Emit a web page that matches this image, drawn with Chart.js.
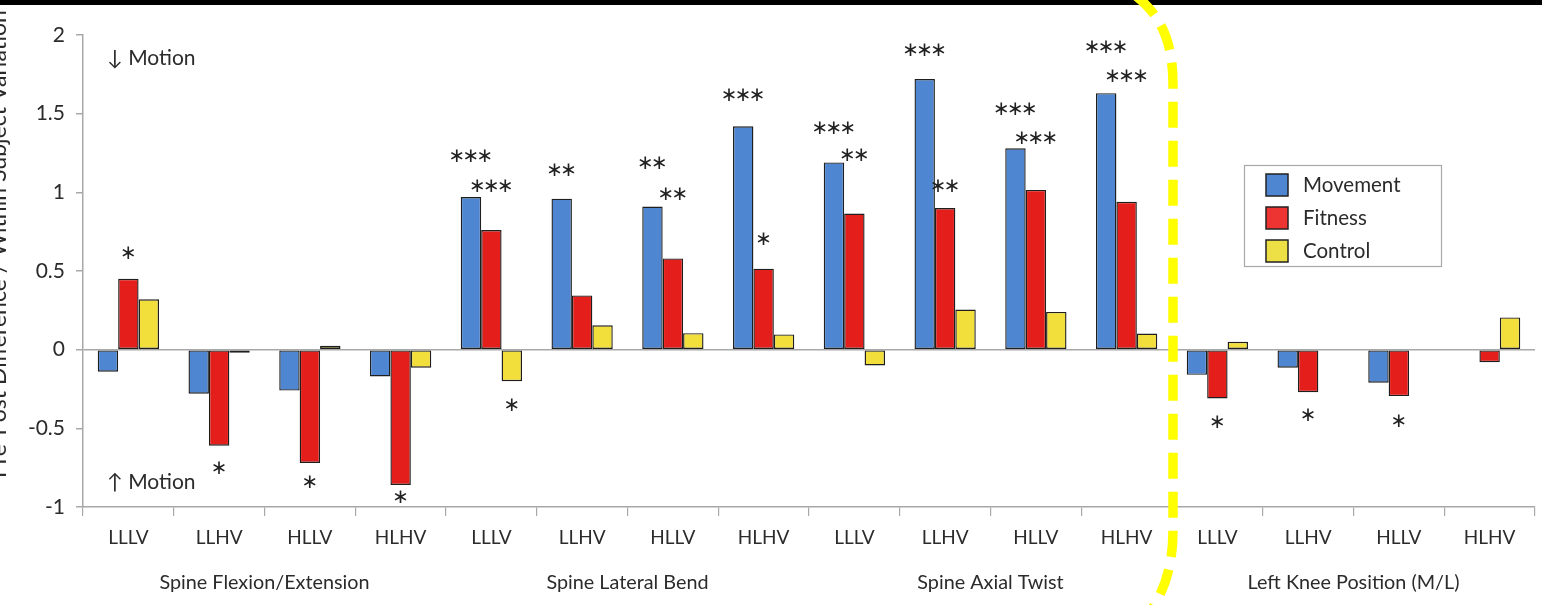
<!DOCTYPE html>
<html>
<head>
<meta charset="utf-8">
<script src="https://cdn.jsdelivr.net/npm/chart.js@4.4.1/dist/chart.umd.min.js"></script>
<style>
  html, body { margin: 0; padding: 0; background: #ffffff; overflow: hidden; }
  canvas { display: block; }
</style>
</head>
<body>
<canvas id="chart" width="1542" height="605"></canvas>
<script>
// Task conditions, repeated for each measured body region
const conditions = [
  'LLLV', 'LLHV', 'HLLV', 'HLHV',
  'LLLV', 'LLHV', 'HLLV', 'HLHV',
  'LLLV', 'LLHV', 'HLLV', 'HLHV',
  'LLLV', 'LLHV', 'HLLV', 'HLHV'
];
const regions = ['Spine Flexion/Extension', 'Spine Lateral Bend', 'Spine Axial Twist', 'Left Knee Position (M/L)'];
const seriesNames = ['Movement', 'Fitness', 'Control'];

// Pre/post difference normalised by within-subject variation
const movement = [-0.14, -0.28, -0.26, -0.17,  0.97, 0.96, 0.91, 1.42,  1.19, 1.72, 1.28, 1.63,  -0.16, -0.115, -0.21, 0.005];
const fitness  = [ 0.45, -0.61, -0.72, -0.86,  0.76, 0.345, 0.58, 0.515,  0.865, 0.90, 1.015, 0.94,  -0.31, -0.27, -0.295, -0.08];
const control  = [ 0.32, -0.02, 0.025, -0.115,  -0.20, 0.155, 0.105, 0.097,  -0.10, 0.255, 0.24, 0.102,  0.05, 0.005, -0.005, 0.205];

// Significance markers for each bar
const sigMovement = ['', '', '', '',  '***', '**', '**', '***',  '***', '***', '***', '***',  '', '', '', ''];
const sigFitness  = ['*', '*', '*', '*',  '***', '', '**', '*',  '**', '**', '***', '***',  '*', '*', '*', ''];
const sigControl  = ['', '', '', '',  '*', '', '', '',  '', '', '', '',  '', '', '', ''];

const yTickLabels = ['-1', '-0.5', '0', '0.5', '1', '1.5', '2'];

// Layout: distance (px) between a bar's end and the centre of its marker
const markerGap = [
  [0, 0, 0, 0,  40, 28, 43, 30,  34, 28, 38, 45,  0, 0, 0, 0],
  [25, 23, 20, 13,  43, 0, 64, 29,  58, 21, 51, 125,  24, 24, 26, 0],
  [0, 0, 0, 0,  25, 0, 0, 0,  0, 0, 0, 0,  0, 0, 0, 0]
];

const COLORS = ['#4f86d1', '#e41f1b', '#f3df3b'];
const LEGEND_COLORS = ['#4f86d1', '#ee3333', '#ece046'];
const AXIS = '#a8a8a8';
const TEXT = '#2b2b2b';
const FONT = 'Lato, "Open Sans", sans-serif';

const annotations = {
  id: 'annotations',
  afterDatasetsDraw(chart) {
    const ctx = chart.ctx;
    const area = chart.chartArea;
    const xs = chart.scales.x;
    const sigs = [sigMovement, sigFitness, sigControl];
    const values = [movement, fitness, control];

    // significance asterisks
    ctx.save();
    ctx.fillStyle = '#222';
    ctx.font = '20px "DejaVu Sans"';
    ctx.textAlign = 'center';
    ctx.textBaseline = 'middle';
    sigs.forEach((arr, d) => {
      const meta = chart.getDatasetMeta(d);
      arr.forEach((s, i) => {
        if (!s) return;
        const bar = meta.data[i];
        const v = values[d][i];
        const y = v >= 0 ? bar.y - markerGap[d][i] : bar.y + markerGap[d][i];
        const n = s.length;
        for (let k = 0; k < n; k++) {
          const x = bar.x + (k - (n - 1) / 2) * 14;
          ctx.fillText('\u2217', x, y);
        }
      });
    });
    ctx.restore();

    // direction notes
    ctx.save();
    ctx.fillStyle = TEXT;
    ctx.font = '21px ' + FONT;
    ctx.textAlign = 'left';
    ctx.textBaseline = 'middle';
    ctx.fillText('\u2193 Motion', area.left + 24, area.top + 23);
    ctx.fillText('\u2191 Motion', area.left + 24, area.bottom - 25);
    ctx.restore();

    // region names under the condition labels
    ctx.save();
    ctx.fillStyle = TEXT;
    ctx.font = '19.8px ' + FONT;
    ctx.textAlign = 'center';
    ctx.textBaseline = 'middle';
    regions.forEach((name, g) => {
      const x0 = xs.getPixelForValue(g * 4);
      const x1 = xs.getPixelForValue(g * 4 + 3);
      ctx.fillText(name, (x0 + x1) / 2, 583);
    });
    ctx.restore();

    // legend box
    ctx.save();
    ctx.fillStyle = '#ffffff';
    ctx.fillRect(1244, 165, 197, 101);
    ctx.strokeStyle = AXIS;
    ctx.lineWidth = 1.2;
    ctx.strokeRect(1244.5, 165.5, 197, 101);
    ctx.font = '20.5px ' + FONT;
    ctx.textAlign = 'left';
    ctx.textBaseline = 'middle';
    seriesNames.forEach((name, i) => {
      const cy = 185 + i * 33;
      ctx.fillStyle = LEGEND_COLORS[i];
      ctx.fillRect(1266, cy - 11, 22, 22);
      ctx.strokeStyle = '#222';
      ctx.lineWidth = 1.5;
      ctx.strokeRect(1266, cy - 11, 22, 22);
      ctx.fillStyle = TEXT;
      ctx.fillText(name, 1303, cy);
    });
    ctx.restore();

    // vertical axis title, running off the left edge
    ctx.save();
    ctx.fillStyle = TEXT;
    const title = 'Pre-Post Difference / Within Subject Variation';
    ctx.font = '20px ' + FONT;
    const w = ctx.measureText(title).width;
    const size = 20 * 468 / w;
    ctx.font = size.toFixed(2) + 'px ' + FONT;
    ctx.translate(6, 244);
    ctx.rotate(-Math.PI / 2);
    ctx.textAlign = 'center';
    ctx.textBaseline = 'alphabetic';
    ctx.fillText(title, 0, 0);
    ctx.restore();

    // top border band
    ctx.save();
    ctx.fillStyle = '#000';
    ctx.fillRect(0, 0, chart.width, 5);
    ctx.restore();

    // highlighted divider around the spine measures
    ctx.save();
    ctx.strokeStyle = '#ffff00';
    ctx.lineWidth = 9.5;
    ctx.setLineDash([26, 13]);
    ctx.beginPath();
    ctx.moveTo(1136, -4);
    ctx.bezierCurveTo(1160, 15, 1173, 40, 1173, 85);
    ctx.lineTo(1173, 530);
    ctx.bezierCurveTo(1173, 565, 1165, 590, 1150, 612);
    ctx.stroke();
    ctx.restore();
  }
};

const whiteBg = {
  id: 'whiteBg',
  beforeDraw(chart) {
    const ctx = chart.ctx;
    ctx.save();
    ctx.fillStyle = '#fff';
    ctx.fillRect(0, 0, chart.width, chart.height);
    ctx.restore();
  }
};

const datasets = [movement, fitness, control].map((vals, i) => ({
  label: seriesNames[i],
  data: vals,
  backgroundColor: COLORS[i],
  borderColor: '#1e1e1e',
  borderWidth: 1.4,
  borderSkipped: false,
  barPercentage: 1.0,
  categoryPercentage: 0.675
}));

new Chart(document.getElementById('chart'), {
  type: 'bar',
  data: { labels: conditions, datasets },
  options: {
    responsive: false,
    animation: false,
    devicePixelRatio: 1,
    layout: { padding: { top: 35, right: 7, left: 0, bottom: 0 } },
    plugins: { legend: { display: false }, tooltip: { enabled: false } },
    scales: {
      x: {
        offset: true,
        grid: { offset: true, drawOnChartArea: false, color: AXIS, tickColor: AXIS, tickLength: 9, lineWidth: 1.2 },
        border: { color: AXIS, width: 1.5 },
        ticks: { color: TEXT, font: { family: FONT, size: 19 }, padding: 10, maxRotation: 0, autoSkip: false },
        afterFit(s) { s.height = 98; }
      },
      y: {
        min: -1,
        max: 2,
        ticks: {
          stepSize: 0.5,
          color: TEXT,
          font: { family: FONT, size: 21 },
          padding: 11,
          callback: (v, i) => yTickLabels[i]
        },
        grid: {
          color: c => (c.tick && c.tick.value === 0) ? AXIS : 'rgba(0,0,0,0)',
          tickColor: AXIS,
          tickLength: 7,
          lineWidth: 1.5
        },
        border: { color: AXIS, width: 1.5 },
        afterFit(s) { s.width = 83; }
      }
    }
  },
  plugins: [whiteBg, annotations]
});
</script>
</body>
</html>
